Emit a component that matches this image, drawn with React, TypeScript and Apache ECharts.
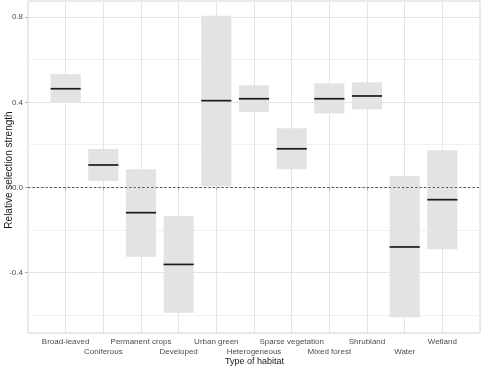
import React, { useEffect, useRef } from 'react';
import * as echarts from 'echarts';

const categories = ['Broad-leaved', 'Coniferous', 'Permanent crops', 'Developed', 'Urban green', 'Heterogeneous', 'Sparse vegetation', 'Mixed forest', 'Shrubland', 'Water', 'Wetland'];
const lower = [0.397, 0.03, -0.326, -0.589, 0.005, 0.354, 0.085, 0.347, 0.366, -0.61, -0.291];
const upper = [0.532, 0.18, 0.085, -0.135, 0.806, 0.479, 0.277, 0.488, 0.493, 0.053, 0.174];
const median = [0.463, 0.105, -0.119, -0.362, 0.407, 0.416, 0.181, 0.416, 0.429, -0.28, -0.058];
const yTicks = [-0.4, 0, 0.4, 0.8];
const yMinorTicks = [-0.6, -0.2, 0.2, 0.6];
const yMin = -0.684;
const yMax = 0.875;

const FONT = '"Liberation Sans", Arial, sans-serif';

export default function App() {
  const ref = useRef<HTMLDivElement>(null);
  useEffect(() => {
    const chart = echarts.init(ref.current!, null, { renderer: 'svg' });
    const axisData = ['', ...categories, ''];
    const data = categories.map((c, i) => [i + 1, lower[i], upper[i], median[i]]);
    const inner = (i: number) => i > 0 && i < axisData.length - 1;
    chart.setOption({
      animation: false,
      textStyle: { fontFamily: FONT },
      grid: { left: 28, right: 2, top: 1, bottom: 34, show: true, borderColor: '#d4d4d4', borderWidth: 1, backgroundColor: 'transparent' },
      xAxis: {
        type: 'category',
        data: axisData,
        boundaryGap: false,
        axisLine: { show: false },
        axisTick: { show: true, length: 3, interval: (i: number) => inner(i), lineStyle: { color: '#b3b3b3' } },
        axisLabel: {
          interval: 0,
          formatter: (v: string, i: number) => (i % 2 === 0 ? '\n' + v : v),
          fontSize: 8,
          color: '#4d4d4d',
          margin: 4,
          lineHeight: 9.5,
          fontFamily: FONT,
        },
        splitLine: { show: true, interval: (i: number) => inner(i), lineStyle: { color: '#e5e5e5', width: 1 } },
      },
      yAxis: [
        {
          type: 'value',
          min: yMin,
          max: yMax,
          axisLine: { show: false },
          axisTick: { show: true, length: 3, customValues: yTicks, lineStyle: { color: '#b3b3b3' } },
          axisLabel: { customValues: yTicks, formatter: (v: number) => v.toFixed(1), fontSize: 8, color: '#4d4d4d', margin: 5, fontFamily: FONT },
          splitLine: { show: true, lineStyle: { color: '#e5e5e5', width: 1 } },
        },
        {
          type: 'value',
          min: yMin,
          max: yMax,
          position: 'left',
          axisLine: { show: false },
          axisTick: { show: false, customValues: yMinorTicks },
          axisLabel: { show: false, customValues: yMinorTicks },
          splitLine: { show: true, lineStyle: { color: '#f1f1f1', width: 1 } },
        },
      ],
      graphic: [
        { type: 'text', x: 254.5, y: 361, style: { text: 'Type of habitat', fontSize: 9, fill: '#1a1a1a', align: 'center', verticalAlign: 'middle', fontFamily: FONT } },
        { type: 'text', x: 8, y: 170, rotation: Math.PI / 2, style: { text: 'Relative selection strength', fontSize: 10, fill: '#1a1a1a', align: 'center', verticalAlign: 'middle', fontFamily: FONT } },
      ],
      series: [
        {
          type: 'custom',
          data,
          encode: { x: 0, y: [1, 2, 3] },
          renderItem: (params: any, api: any) => {
            const x = api.value(0);
            const lo = api.coord([x, api.value(1)]);
            const hi = api.coord([x, api.value(2)]);
            const md = api.coord([x, api.value(3)]);
            const w = api.size([1, 0])[0] * 0.8;
            return {
              type: 'group',
              children: [
                { type: 'rect', shape: { x: lo[0] - w / 2, y: hi[1], width: w, height: lo[1] - hi[1] }, style: { fill: '#e3e3e3' } },
                { type: 'line', shape: { x1: md[0] - w / 2, y1: md[1], x2: md[0] + w / 2, y2: md[1] }, style: { stroke: '#1a1a1a', lineWidth: 1.7 } },
              ],
            };
          },
          markLine: {
            silent: true,
            symbol: 'none',
            label: { show: false },
            lineStyle: { type: [2.2, 2.2], color: '#555555', width: 1.2 },
            data: [{ yAxis: 0 }],
          },
        },
      ],
    });
    return () => chart.dispose();
  }, []);
  return <div ref={ref} style={{ position: 'fixed', left: 0, top: 0, width: 483, height: 367 }} />;
}
